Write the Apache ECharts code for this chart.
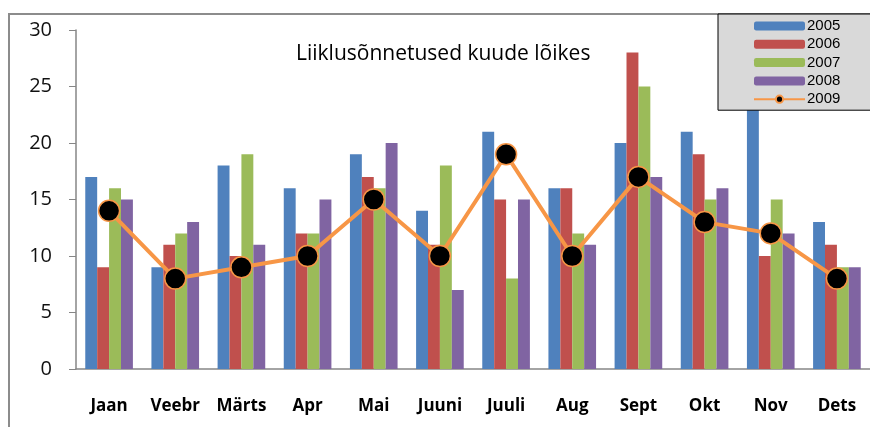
<!DOCTYPE html>
<html>
<head>
<meta charset="utf-8">
<script src="https://cdn.jsdelivr.net/npm/echarts@6/dist/echarts.min.js"></script>
<style>html,body{margin:0;padding:0;background:#fff}#c{width:870px;height:427px}</style>
</head>
<body>
<div id="c"></div>
<script>
const months = ['Jaan','Veebr','Märts','Apr','Mai','Juuni','Juuli','Aug','Sept','Okt','Nov','Dets'];
const y2005 = [17, 9, 18, 16, 19, 14, 21, 16, 20, 21, 23, 13];
const y2006 = [9, 11, 10, 12, 17, 11, 15, 16, 28, 19, 10, 11];
const y2007 = [16, 12, 19, 12, 16, 18, 8, 12, 25, 15, 15, 9];
const y2008 = [15, 13, 11, 15, 20, 7, 15, 11, 17, 16, 12, 9];
const y2009 = [14, 8, 9, 10, 15, 10, 19, 10, 17, 13, 12, 8];
const yTicks = [0, 5, 10, 15, 20, 25, 30];
const titleText = 'Liiklusõnnetused kuude lõikes';

const chart = echarts.init(document.getElementById('c'), null, {renderer: 'canvas'});
const barSeries = (name, data, color) => ({
  name, type: 'bar', data, barGap: '0%', barCategoryGap: '28%',
  itemStyle: {color}, z: 2
});
chart.setOption({
  animation: false,
  title: {
    text: titleText, left: 291, top: 39,
    textStyle: {fontFamily: 'Open Sans', fontSize: 21, fontWeight: 'normal', color: '#000'}
  },
  graphic: [{
    type: 'rect', shape: {x: 9, y: 14, width: 900, height: 460},
    style: {fill: 'none', stroke: '#8c8c8c', lineWidth: 2}, z: 0, silent: true
  }],
  legend: {
    orient: 'vertical', left: 718, top: 14,
    backgroundColor: '#d9d9d9', borderColor: '#000', borderWidth: 1,
    padding: [4, 80, 3, 35],
    itemWidth: 51, itemHeight: 9, itemGap: 2.3,
    textStyle: {fontFamily: 'Liberation Sans', fontSize: 15, lineHeight: 16, color: '#000', padding: [0, 0, 0, -3]},
    data: ['2005', '2006', '2007', '2008', '2009']
  },
  grid: {left: 76, right: -11, top: 30, bottom: 58},
  xAxis: {
    type: 'category', data: months,
    axisLine: {lineStyle: {color: '#868686', width: 1.5}},
    axisTick: {length: 8, lineStyle: {color: '#868686'}},
    axisLabel: {margin: 29, fontFamily: 'Open Sans', fontWeight: 'bold', fontSize: 17, color: '#000', interval: 0}
  },
  yAxis: {
    type: 'value', min: yTicks[0], max: yTicks[yTicks.length - 1], interval: 5,
    splitLine: {show: false},
    axisLine: {show: true, lineStyle: {color: '#868686', width: 1.5}},
    axisTick: {show: true, length: 7, lineStyle: {color: '#868686'}},
    axisLabel: {margin: 24, fontFamily: 'Open Sans', fontSize: 20, color: '#111'}
  },
  series: [
    barSeries('2005', y2005, '#4F81BD'),
    barSeries('2006', y2006, '#C0504D'),
    barSeries('2007', y2007, '#9BBB59'),
    barSeries('2008', y2008, '#8064A2'),
    {
      name: '2009', type: 'line', data: y2009, z: 5,
      symbol: 'circle', symbolSize: 21,
      lineStyle: {color: '#F79646', width: 4},
      itemStyle: {color: '#000', borderColor: '#F79646', borderWidth: 1.5}
    }
  ]
});
</script>
</body>
</html>
